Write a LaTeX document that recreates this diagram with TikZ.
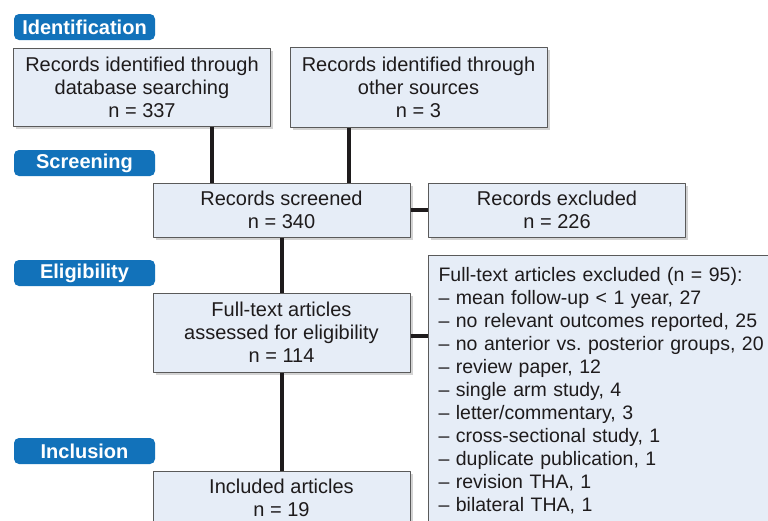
\documentclass[tikz,border=0pt]{standalone}
\usepackage{fontspec}
\setmainfont{Liberation Sans}
\usetikzlibrary{shadows}
\definecolor{stageblue}{HTML}{1272BA}
\definecolor{boxfill}{HTML}{E6EDF7}
\definecolor{boxline}{HTML}{5A5A5A}
\definecolor{inktext}{HTML}{1E1B1C}
\frenchspacing
\begin{document}
\begin{tikzpicture}[x=1pt,y=-1pt, line join = round, font=\fontsize{20}{23}\selectfont]
                \tikzset{stage/.style={fill=stageblue, rounded corners=5pt, text=white, font=\fontsize{20}{23}\selectfont\bfseries, minimum width=141pt, minimum height=26pt, inner sep=0pt},
                         box/.style={draw=boxline, fill=boxfill, line width=1pt, text=inktext, align=center, minimum width=257pt, drop shadow={shadow xshift=2.5pt, shadow yshift=-3pt, opacity=.35}},
                         link/.style={line width=4pt, draw=inktext}}
                \useasboundingbox (0,0) rectangle (768,520);
                \clip (0,0) rectangle (768,520);
                % stages
                \node[stage] (sid) at (84.5,27) {Identification};
                \node[stage] (sscr) at (84.5,163) {Screening};
                \node[stage] (selg) at (84.5,273) {Eligibility};
                \node[stage] (sinc) at (84.5,451) {Inclusion};
                % boxes
                \node[box, minimum height=78pt] (dbs) at (142,87) {Records identified through\\database searching\\n = 337};
                \node[box, minimum height=80pt] (oth) at (418.5,87) {Records identified through\\other sources\\n = 3};
                \node[box, minimum height=54pt] (scr) at (281.5,210) {Records screened\\n = 340};
                \node[box, minimum height=54pt] (exc) at (557,210) {Records excluded\\n = 226};
                \node[box, minimum height=79pt] (ftx) at (281.5,332.5) {Full-text articles\\assessed for eligibility\\n = 114};
                \node[box, minimum height=54pt] (inc) at (281.5,498) {Included articles\\n = 19};
                \node[box, anchor=north west, align=left, text width=340pt, inner xsep=10pt, inner ysep=12pt, font=\fontsize{19.5}{23}\selectfont] (ftexc) at (428,255) {Full-text articles excluded (n = 95):\\
                  – mean follow-up < 1 year, 27\\
                  – no relevant outcomes reported, 25\\
                  – no anterior vs. posterior groups, 20\\
                  – review paper, 12\\
                  – single arm study, 4\\
                  – letter/commentary, 3\\
                  – cross-sectional study, 1\\
                  – duplicate publication, 1\\
                  – revision THA, 1\\
                  – bilateral THA, 1};
                % links
                \coordinate (dbsout) at ([xshift=70pt]dbs.south);
                \coordinate (othout) at ([xshift=-69.5pt]oth.south);
                \draw[link] (dbsout) -- (dbsout |- scr.north);
                \draw[link] (othout) -- (othout |- scr.north);
                \draw[link] (scr.east) -- (exc.west);
                \draw[link] (scr.south) -- (ftx.north);
                \draw[link] ([yshift=-3pt]ftx.east) -- ([yshift=-3pt]ftx.east -| ftexc.west);
                \draw[link] (ftx.south) -- (inc.north);
            \end{tikzpicture}
\end{document}
